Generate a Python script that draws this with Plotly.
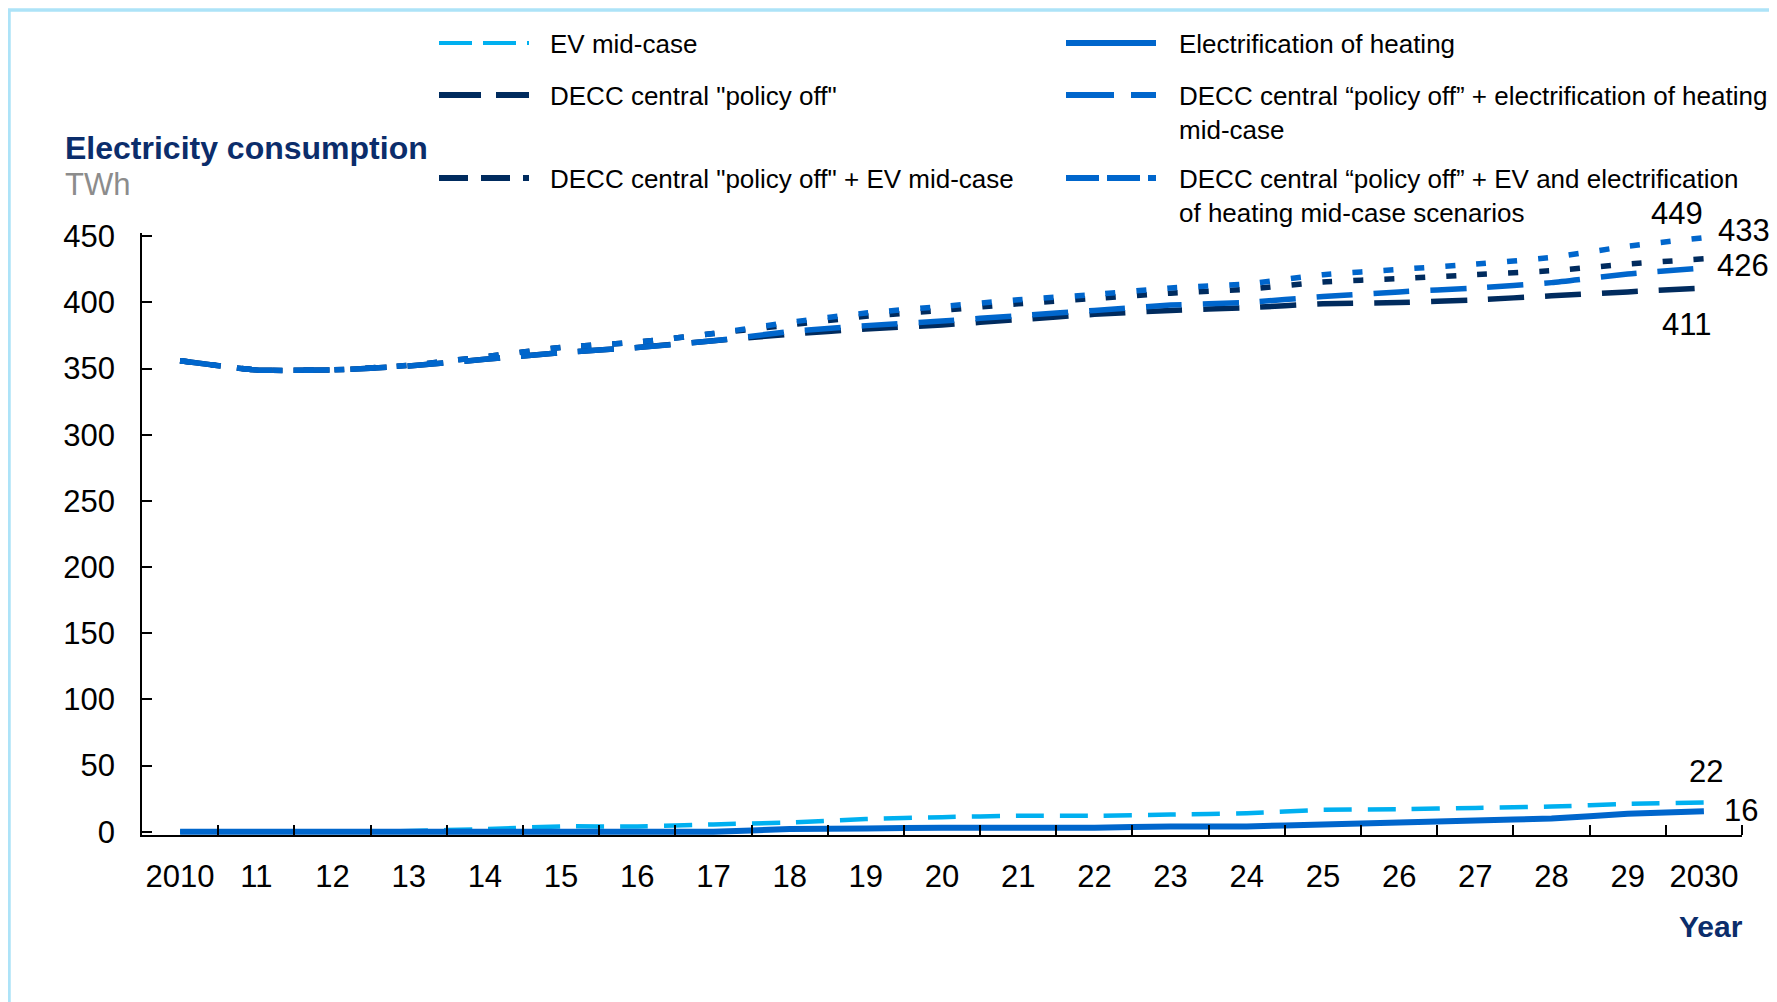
import plotly.graph_objects as go

# ---- data (TWh) ----
years = [2010, 2011, 2012, 2013, 2014, 2015, 2016, 2017, 2018, 2019, 2020,
         2021, 2022, 2023, 2024, 2025, 2026, 2027, 2028, 2029, 2030]
year_labels = ["2010", "11", "12", "13", "14", "15", "16", "17", "18", "19", "20",
               "21", "22", "23", "24", "25", "26", "27", "28", "29", "2030"]

decc_policy_off = [356, 349, 349, 352, 357, 362, 366, 371, 376, 380, 383,
                   387, 391, 394, 396, 399, 400, 402, 405, 408, 411]
decc_plus_ev = [356, 349, 349, 352.5, 359, 366, 370, 376.5, 383, 389.5, 394,
                399, 403, 407, 410, 415.5, 418, 421, 424, 429, 433]
decc_plus_heating = [356, 349, 349, 352, 357, 362, 366, 371, 378, 382.5, 386,
                     390, 394, 398, 400, 404.5, 408, 411, 415, 421.5, 426]
decc_plus_ev_heating = [356, 349, 349, 352.5, 359, 366, 370, 376.5, 385, 392, 397,
                        402, 406, 411, 414, 421, 425, 429, 434, 442.5, 449]
ev_mid_case = [0, 0, 0, 0.5, 2, 4, 4, 5.5, 7, 9.5, 11,
               12, 12, 13, 14, 16.5, 17, 18, 19, 21, 22]
electrification_heating = [0, 0, 0, 0, 0, 0, 0, 0, 2, 2.5, 3,
                           3, 3, 4, 4, 5.5, 7, 8.5, 10, 13.5, 15.5]

y_ticks = [0, 50, 100, 150, 200, 250, 300, 350, 400, 450]

NAVY = "#002b5e"
BLUE = "#0066cc"
LIGHT = "#00b0f0"
TITLE_NAVY = "#0b2d6b"
FONT = "Liberation Sans, Arial, sans-serif"

# layout geometry; the page adds an 8px body margin, so page pixel = figure pixel + 8
W, H = 1769, 994
L, R, T, B = 134, 35, 225, 167
PW, PH = W - L - R, H - T - B
OFF = 8


def px(x):
    # page x pixel -> paper fraction
    return (x - OFF - L) / PW


def py(y):
    # page y pixel -> paper fraction
    return (H - B - (y - OFF)) / PH


# name, values, colour, width, dash (chart), dash (legend), legend width
series = [
    ("DECC central \"policy off\"", decc_policy_off, NAVY, 5.5, "36px,21px", "42px,15px", 6),
    ("DECC central \"policy off\" + EV mid-case", decc_plus_ev, NAVY, 5.5, "10px,21px", "29px,13px", 6),
    ("DECC central \u201cpolicy off\u201d + electrification of heating<br>mid-case",
     decc_plus_heating, BLUE, 5.5, "36px,21px", "48px,17px", 6),
    ("DECC central \u201cpolicy off\u201d + EV and electrification<br>of heating mid-case scenarios",
     decc_plus_ev_heating, BLUE, 5.5, "10px,21px", "33px,8px", 6),
    ("EV mid-case", ev_mid_case, LIGHT, 4.5, "28px,16px", "33px,11px", 4),
    ("Electrification of heating", electrification_heating, BLUE, 6, "solid", "solid", 6),
]

fig = go.Figure()
for name, vals, color, width, dash, _, _ in series:
    fig.add_trace(go.Scatter(
        x=years, y=vals, mode="lines", name=name,
        line=dict(color=color, width=width, dash=dash, shape="spline", smoothing=0.5),
        hoverinfo="x+y",
    ))

shapes = []
annotations = []

# hand-built legend (two columns, three rows)
legend_slots = {
    "EV mid-case": (439, 529, 548, 43),
    "Electrification of heating": (1066, 1156, 1177, 43),
    "DECC central \"policy off\"": (439, 529, 548, 95),
    "DECC central \u201cpolicy off\u201d + electrification of heating<br>mid-case": (1066, 1156, 1177, 95),
    "DECC central \"policy off\" + EV mid-case": (439, 529, 548, 178),
    "DECC central \u201cpolicy off\u201d + EV and electrification<br>of heating mid-case scenarios": (1066, 1156, 1177, 178),
}
for name, vals, color, width, _, ldash, lwidth in series:
    x0, x1, tx, ly = legend_slots[name]
    shapes.append(dict(type="line", xref="paper", yref="paper",
                       x0=px(x0), x1=px(x1), y0=py(ly), y1=py(ly),
                       line=dict(color=color, width=lwidth, dash=ldash)))
    annotations.append(dict(xref="paper", yref="paper", x=px(tx), y=py(ly - 16),
                            xanchor="left", yanchor="top", align="left",
                            text=name, showarrow=False,
                            font=dict(size=26, color="black", family=FONT)))

# outer light-blue frame (only top and left edges visible)
shapes.append(dict(type="rect", xref="paper", yref="paper",
                   x0=px(9), y0=py(10), x1=px(1820), y1=py(1040),
                   line=dict(color="#ade3f8", width=3.5), layer="below"))

# axis titles
annotations += [
    dict(xref="paper", yref="paper", x=px(63), y=py(148), xanchor="left", yanchor="middle",
         text="<b>Electricity consumption</b>", showarrow=False,
         font=dict(size=32, color=TITLE_NAVY, family=FONT)),
    dict(xref="paper", yref="paper", x=px(63), y=py(184), xanchor="left", yanchor="middle",
         text="TWh", showarrow=False, font=dict(size=31, color="#8c8c8c", family=FONT)),
    dict(xref="paper", yref="paper", x=px(1745), y=py(926), xanchor="right", yanchor="middle",
         text="<b>Year</b>", showarrow=False, font=dict(size=30, color=TITLE_NAVY, family=FONT)),
]

# end-of-line value labels (page pixel positions)
end_labels = [
    (decc_plus_ev_heating[-1], 1677, 213),
    (decc_plus_ev[-1], 1744, 230),
    (decc_plus_heating[-1], 1743, 265),
    (decc_policy_off[-1], 1686, 324),
    (ev_mid_case[-1], 1706, 771),
    (electrification_heating[-1], 1741, 810),
]
for v, lx, ly in end_labels:
    annotations.append(dict(xref="paper", yref="paper", x=px(lx), y=py(ly), text=f"{v:.0f}",
                            showarrow=False, xanchor="center", yanchor="middle",
                            font=dict(size=31, color="black", family=FONT)))

fig.update_layout(
    width=W, height=H,
    margin=dict(l=L, r=R, t=T, b=B),
    paper_bgcolor="white", plot_bgcolor="white",
    showlegend=False,
    font=dict(family=FONT, color="black"),
    shapes=shapes,
    annotations=annotations,
)
fig.update_xaxes(
    range=[2009.5, 2030.5], showgrid=False, zeroline=False,
    showline=True, linecolor="black", linewidth=1.5,
    tickmode="array", tickvals=years, ticktext=year_labels, ticks="",
    tickfont=dict(size=31, color="black", family=FONT), ticklabelstandoff=13,
    minor=dict(tickmode="array", tickvals=[y + 0.5 for y in years],
               ticks="inside", ticklen=10, tickwidth=1.5, tickcolor="black", showgrid=False),
)
fig.update_yaxes(
    range=[-2.5, 452.5], showgrid=False, zeroline=False,
    showline=True, linecolor="black", linewidth=1.5,
    tickmode="array", tickvals=y_ticks, ticks="inside", ticklen=10, tickwidth=1.5,
    tickcolor="black", tickfont=dict(size=31, color="black", family=FONT),
    ticklabelstandoff=19,
)

fig.write_html("out.html")
